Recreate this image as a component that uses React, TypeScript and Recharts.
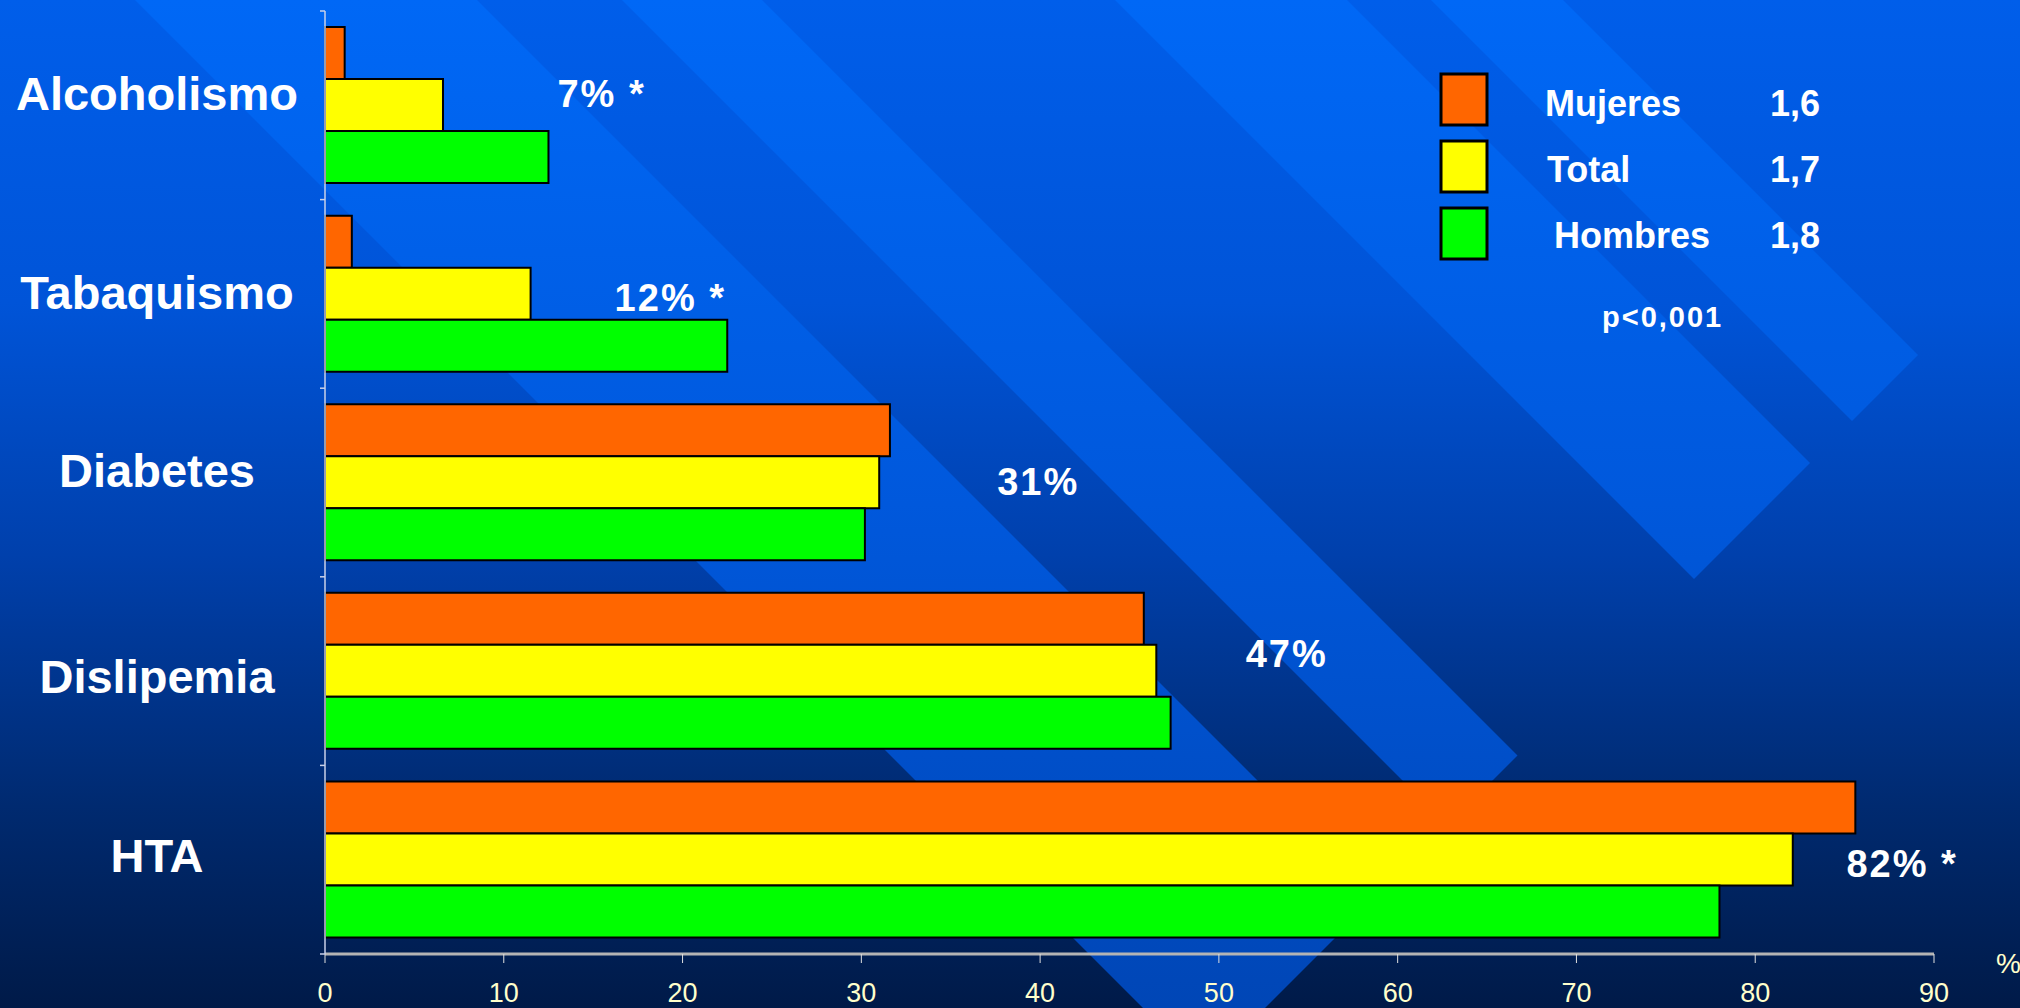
import React from 'react'
import { BarChart, Bar, XAxis, YAxis, Legend, ReferenceDot } from 'recharts'

// Factores de riesgo cardiovascular por sexo (%)
const CATEGORIES = ['Alcoholismo', 'Tabaquismo', 'Diabetes', 'Dislipemia', 'HTA']
const MUJERES = [1.1, 1.5, 31.6, 45.8, 85.6]
const TOTAL = [6.6, 11.5, 31.0, 46.5, 82.1]
const HOMBRES = [12.5, 22.5, 30.2, 47.3, 78.0]

// prevalencia global anotada junto a cada grupo (x en unidades de %)
const PREVALENCE = ['7% *', '12% *', '31%', '47%', '82% *']
const PREVALENCE_AT = [13.0, 16.2, 37.6, 51.5, 85.1]

const SERIES = ['Mujeres', 'Total', 'Hombres']
const RATIOS = ['1,6', '1,7', '1,8']
const P_VALUE = 'p<0,001'
const X_TICKS = [0, 10, 20, 30, 40, 50, 60, 70, 80, 90]

const COLORS = ['#ff6600', '#ffff00', '#00ff00']
const FONT = '"Liberation Sans", Arial, Helvetica, sans-serif'

const W = 2020
const H = 1008
const PLOT_LEFT = 325
const PLOT_TOP = 11
const PLOT_BOTTOM = 954
const BAND = (PLOT_BOTTOM - PLOT_TOP) / CATEGORIES.length

// small vertical nudges of the texts, as in the slide
const CAT_DY = [-12, -2, -12, 5, -5]
const NOTE_DY = [-12, 3, -1, -18, 4]
const LEGEND_TEXT_X = [1545, 1547, 1554]

// background stripes, given as ranges of (x - y), all cut by x + y = 2273
const STRIPES = [[135, 477], [622, 762], [1115, 1347], [1431, 1563]]

const rows = CATEGORIES.map((name, i) => ({
  name,
  Mujeres: MUJERES[i],
  Total: TOTAL[i],
  Hombres: HOMBRES[i],
}))

function Background() {
  return (
    <svg width={W} height={H} style={{ position: 'absolute', left: 0, top: 0 }}>
      <defs>
        <linearGradient id="bgGrad" x1="0" y1="0" x2="0" y2={H} gradientUnits="userSpaceOnUse">
          <stop offset="0" stopColor="#005eea" />
          <stop offset="0.3" stopColor="#0054d8" />
          <stop offset="0.55" stopColor="#0040ac" />
          <stop offset="0.8" stopColor="#002a70" />
          <stop offset="1" stopColor="#001a48" />
        </linearGradient>
        <linearGradient id="stripeGrad" x1="0" y1="0" x2="0" y2={H} gradientUnits="userSpaceOnUse">
          <stop offset="0" stopColor="#0068f6" />
          <stop offset="0.5" stopColor="#0058dc" />
          <stop offset="1" stopColor="#0046b6" />
        </linearGradient>
        <clipPath id="stripeCut">
          <polygon points="0,0 2273,0 0,2273" />
        </clipPath>
      </defs>
      <rect x={0} y={0} width={W} height={H} fill="url(#bgGrad)" />
      <g clipPath="url(#stripeCut)">
        {STRIPES.map(([a, b], i) => (
          <polygon key={i} points={`${a},0 ${b},0 ${b + H},${H} ${a + H},${H}`} fill="url(#stripeGrad)" />
        ))}
      </g>
    </svg>
  )
}

function CategoryTick(props: any) {
  const { y, payload, index } = props
  const fs = 47
  return (
    <g>
      <line x1={PLOT_LEFT - 5} x2={PLOT_LEFT} y1={y - BAND / 2} y2={y - BAND / 2} stroke="#c8d0e8" strokeWidth={1.5} />
      {index === CATEGORIES.length - 1 && (
        <line x1={PLOT_LEFT - 5} x2={PLOT_LEFT} y1={y + BAND / 2} y2={y + BAND / 2} stroke="#c8d0e8" strokeWidth={1.5} />
      )}
      <text x={157} y={y + CAT_DY[index] + 0.358 * fs} textAnchor="middle" fill="#ffffff"
        fontFamily={FONT} fontWeight={700} fontSize={fs}>
        {payload.value}
      </text>
    </g>
  )
}

function LegendBox(props: any) {
  const items = props.payload ?? []
  const colorOf = (name: string) => items.find((it: any) => it.value === name)?.color
  const ox = 1420
  const oy = 60
  return (
    <svg width={600} height={300} style={{ overflow: 'visible' }}>
      {SERIES.map((name, i) => (
        <g key={name}>
          <rect x={1441 - ox} y={74 + i * 67 - oy} width={46} height={51} fill={colorOf(name) ?? COLORS[i]}
            stroke="#000" strokeWidth={3} />
          <text x={LEGEND_TEXT_X[i] - ox} y={116 + i * 66 - oy} fill="#fff"
            fontFamily={FONT} fontWeight={700} fontSize={36}>{name}</text>
          <text x={1770 - ox} y={116 + i * 66 - oy} fill="#fff"
            fontFamily={FONT} fontWeight={700} fontSize={36}>{RATIOS[i]}</text>
        </g>
      ))}
      <text x={1602 - ox} y={327 - oy} fill="#fff" fontFamily={FONT} fontWeight={700}
        fontSize={29} letterSpacing={2}>{P_VALUE}</text>
    </svg>
  )
}

function Note(i: number) {
  return (p: any) => (
    <text x={p.cx} y={p.cy + NOTE_DY[i] + 0.358 * 38} fill="#ffffff" fontFamily={FONT}
      fontWeight={700} fontSize={38} letterSpacing={2}>{PREVALENCE[i]}</text>
  )
}

export default function App() {
  return (
    <div style={{ position: 'absolute', left: 0, top: 0, width: W, height: H, overflow: 'hidden' }}>
      <Background />
      <div style={{ position: 'absolute', left: 0, top: 0 }}>
        <BarChart
          width={W}
          height={H}
          data={rows}
          layout="vertical"
          margin={{ top: PLOT_TOP, right: W - 1934, bottom: 0, left: 0 }}
          barCategoryGap="8.5%"
          barGap={0}
        >
          <XAxis
            type="number"
            domain={[0, 90]}
            ticks={X_TICKS}
            interval={0}
            height={H - PLOT_BOTTOM}
            axisLine={{ stroke: '#b4b4b4', strokeWidth: 3 }}
            tickLine={{ stroke: '#e0e0e0', strokeWidth: 1 }}
            tickSize={9}
            tickMargin={20}
            tick={{ fill: '#ffffcc', fontSize: 27, fontFamily: FONT }}
            label={(lp: any) => {
              const vb = lp.viewBox ?? {}
              return (
                <text x={vb.x + vb.width + 62} y={vb.y + 19} fill="#ffffcc" fontFamily={FONT} fontSize={28}>%</text>
              )
            }}
          />
          <YAxis
            type="category"
            dataKey="name"
            width={PLOT_LEFT}
            axisLine={{ stroke: '#c8d0e8', strokeWidth: 1.5 }}
            tickLine={false}
            tick={<CategoryTick />}
            interval={0}
          />
          <Legend
            layout="horizontal"
            align="center"
            verticalAlign="middle"
            content={<LegendBox />}
            wrapperStyle={{ position: 'absolute', left: 1420, top: 60, width: 600, height: 300 }}
          />
          {SERIES.map((s, i) => (
            <Bar key={s} dataKey={s} fill={COLORS[i]} stroke="#000000" strokeWidth={2} isAnimationActive={false} />
          ))}
          {CATEGORIES.map((c, i) => (
            <ReferenceDot key={c} x={PREVALENCE_AT[i]} y={c} r={0} ifOverflow="visible" shape={Note(i)} />
          ))}
        </BarChart>
      </div>
    </div>
  )
}
